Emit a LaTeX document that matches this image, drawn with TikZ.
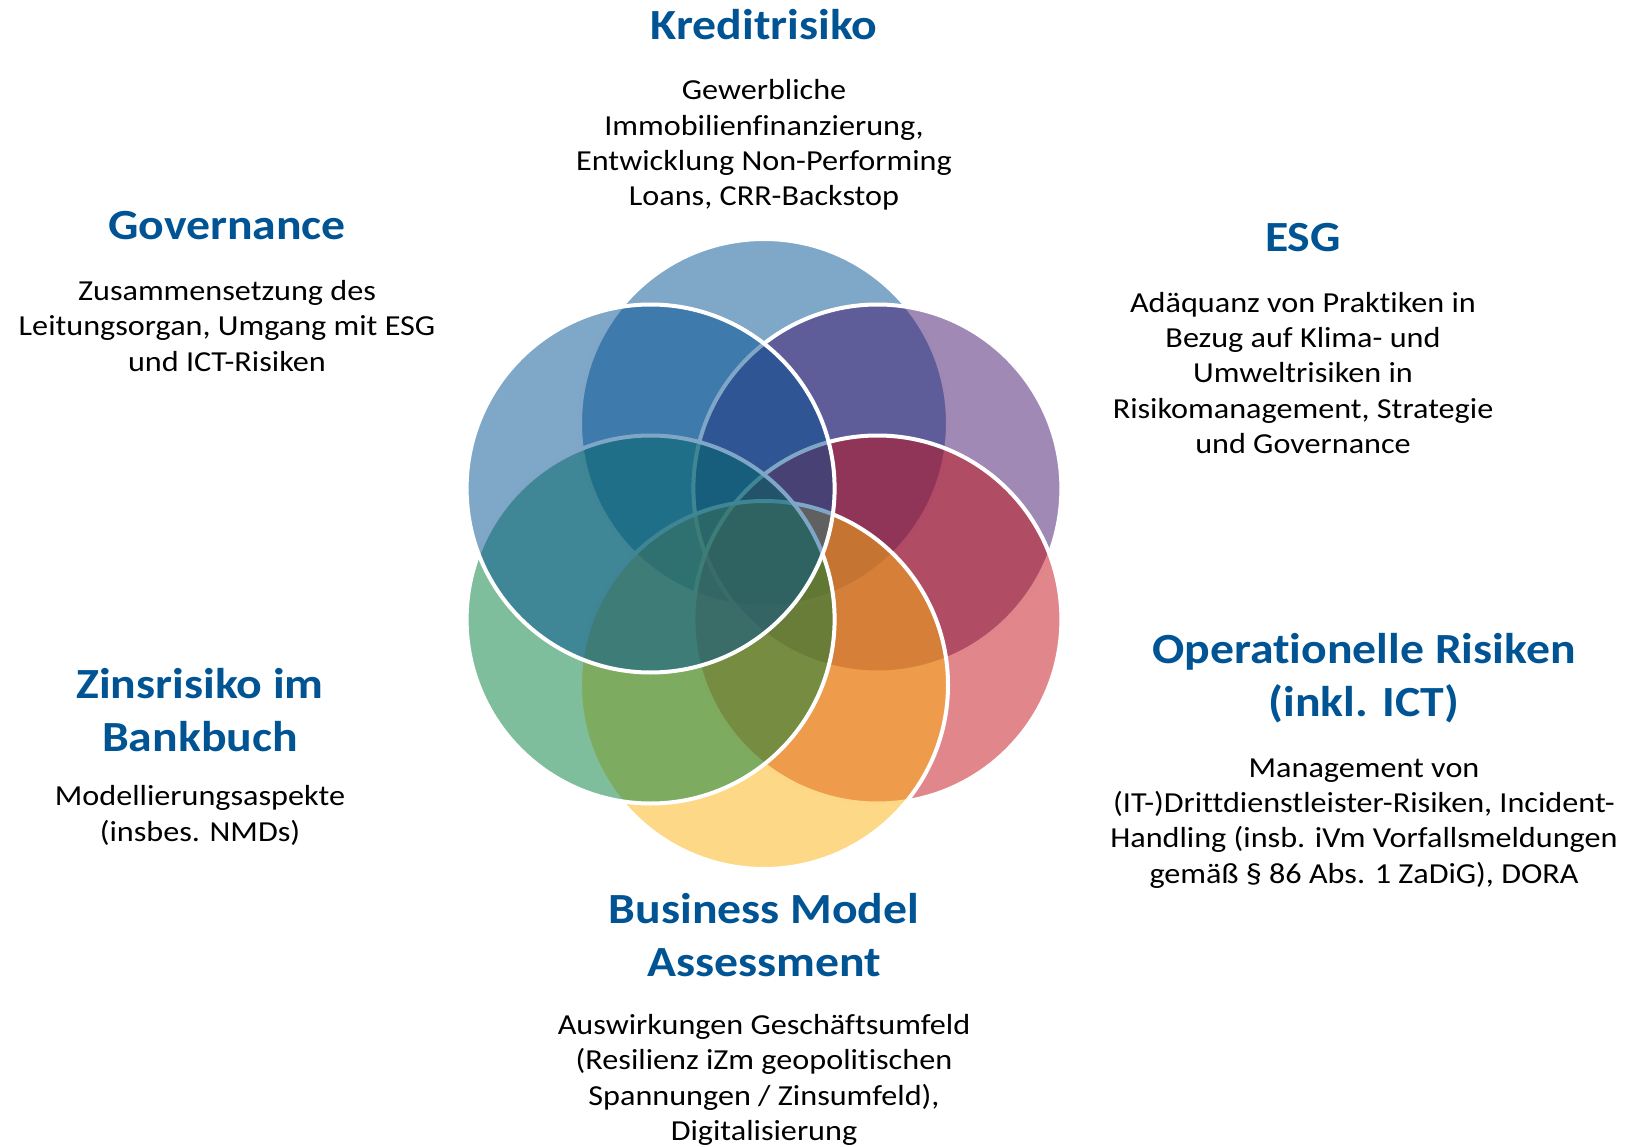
\documentclass[tikz,border=0pt]{standalone}
\usepackage{fontspec}
\setmainfont{Carlito}[FakeStretch=1.11,Ligatures=NoCommon]
\begin{document}
\definecolor{titleblue}{RGB}{0,84,148}
\definecolor{cblue}{RGB}{0,79,145}
\definecolor{cpurple}{RGB}{65,21,107}
\definecolor{cred}{RGB}{195,15,23}
\definecolor{cyellow}{RGB}{251,179,15}
\definecolor{cgreen}{RGB}{0,125,57}
\begin{tikzpicture}[x=1pt,y=-1pt,
  petal/.style={fill=#1,fill opacity=0.5,draw=white,draw opacity=1,line width=4pt},
  heading/.style={font=\fontsize{43}{52.8}\selectfont\bfseries,text=titleblue,align=center,inner sep=0pt},
  body/.style={font=\fontsize{29}{35.2}\selectfont,text=black,align=center,inner sep=0pt}]
\useasboundingbox (0,0) rectangle (1625,1147);

% six overlapping circles, drawn clockwise from the top
\path[petal=cblue]   (764,423)     circle[radius=184pt];
\path[petal=cpurple] (877.4,488.5) circle[radius=184pt];
\path[petal=cred]    (877.4,619.5) circle[radius=184pt];
\path[petal=cyellow] (764,685)     circle[radius=184pt];
\path[petal=cgreen]  (650.6,619.5) circle[radius=184pt];
\path[petal=cblue]   (650.6,488.5) circle[radius=184pt];

% Kreditrisiko
\node[heading] (kreditT) at (764,25) {Kreditrisiko};
\node[body] (kreditB) at (764,145) {Gewerbliche\\Immobilienfinanzierung,\\Entwicklung Non-Performing\\Loans, CRR-Backstop};

% Governance
\node[heading] (govT) at (227,226) {Governance};
\node[body] (govB) at (227,326) {Zusammensetzung des\\Leitungsorgan, Umgang mit ESG\\und ICT-Risiken};

% ESG
\node[heading] (esgT) at (1303,238) {ESG};
\node[body] (esgB) at (1303,373) {Adäquanz von Praktiken in\\Bezug auf Klima- und\\Umweltrisiken in\\Risikomanagement, Strategie\\und Governance};

% Zinsrisiko im Bankbuch
\node[heading] (zinsT) at (200,710) {Zinsrisiko im\\Bankbuch};
\node[body] (zinsB) at (200,815.5) {Modellierungsaspekte\\(insbes. NMDs)};

% Operationelle Risiken
\node[heading] (opT) at (1364,678.5) {Operationelle Risiken\\(inkl. ICT)};
\node[body] (opB) at (1364,823.5) {Management von\\(IT-)Drittdienstleister-Risiken, Incident-\\Handling (insb. iVm Vorfallsmeldungen\\gemäß § 86 Abs. 1 ZaDiG), DORA};

% Business Model Assessment
\node[heading] (bmaT) at (764,935) {Business Model\\Assessment};
\node[body] (bmaB) at (764,1080) {Auswirkungen Geschäftsumfeld\\(Resilienz iZm geopolitischen\\Spannungen / Zinsumfeld),\\Digitalisierung};
\end{tikzpicture}
\end{document}
